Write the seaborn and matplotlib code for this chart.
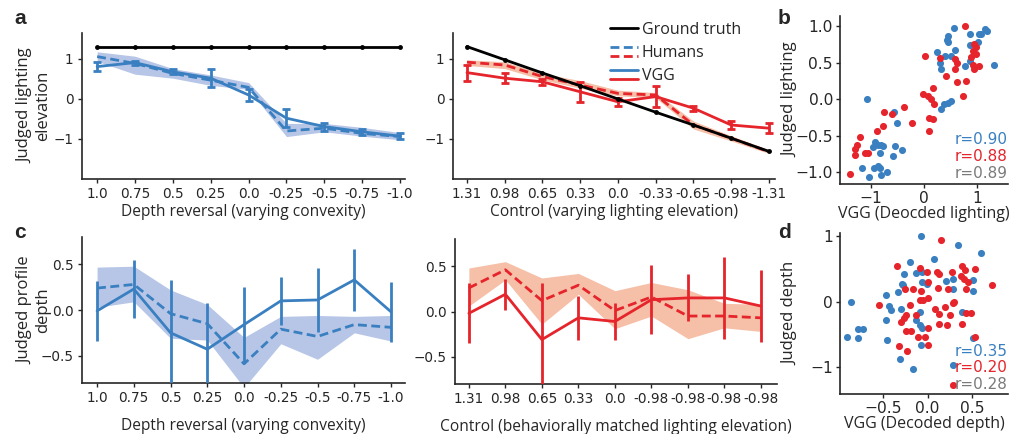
import numpy as np
import pandas as pd
import matplotlib
matplotlib.use("Agg")
import matplotlib.pyplot as plt
import seaborn as sns
from matplotlib.lines import Line2D
from matplotlib.legend_handler import HandlerBase

# ---------------- data ----------------
depth_labels = ["1.0", "0.75", "0.5", "0.25", "0.0", "-0.25", "-0.5", "-0.75", "-1.0"]
ctrl_labels = ["1.31", "0.98", "0.65", "0.33", "0.0", "-0.33", "-0.65", "-0.98", "-1.31"]
matched_labels = ["1.31", "0.98", "0.65", "0.33", "0.0", "-0.98", "-0.98", "-0.98", "-0.98"]

a_depth_truth = [1.31, 1.31, 1.31, 1.31, 1.31, 1.31, 1.31, 1.31, 1.31]
a_depth_human = [1.06, 0.89, 0.64, 0.47, 0.29, -0.80, -0.73, -0.86, -0.94]
a_depth_human_lo = [0.94, 0.62, 0.52, 0.34, 0.24, -0.94, -0.82, -0.93, -1.02]
a_depth_human_hi = [1.18, 1.07, 0.76, 0.60, 0.41, -0.61, -0.61, -0.71, -0.84]
a_depth_vgg = [0.81, 0.91, 0.68, 0.52, 0.10, -0.48, -0.69, -0.82, -0.93]
a_depth_vgg_err = [0.12, 0.05, 0.06, 0.22, 0.15, 0.22, 0.10, 0.07, 0.07]

a_ctrl_truth = [1.31, 0.98, 0.65, 0.33, 0.0, -0.33, -0.65, -0.98, -1.31]
a_ctrl_human = [0.92, 0.85, 0.56, 0.35, 0.14, 0.10, -0.65, -0.98, -1.32]
a_ctrl_human_lo = [0.84, 0.76, 0.48, 0.27, 0.08, 0.03, -0.75, -1.05, -1.36]
a_ctrl_human_hi = [0.98, 0.93, 0.64, 0.46, 0.22, 0.16, -0.55, -0.92, -1.27]
a_ctrl_vgg = [0.66, 0.52, 0.43, 0.18, -0.07, 0.06, -0.23, -0.65, -0.73]
a_ctrl_vgg_err = [0.20, 0.12, 0.08, 0.25, 0.10, 0.27, 0.06, 0.10, 0.12]

c_depth_human = [0.24, 0.28, -0.04, -0.15, -0.59, -0.21, -0.29, -0.16, -0.19]
c_depth_human_lo = [0.03, 0.09, -0.31, -0.33, -0.85, -0.37, -0.54, -0.25, -0.34]
c_depth_human_hi = [0.47, 0.48, 0.22, 0.06, -0.30, -0.07, -0.06, -0.07, -0.06]
c_depth_vgg = [-0.01, 0.23, -0.25, -0.43, -0.16, 0.10, 0.11, 0.33, -0.02]
c_depth_vgg_err = [0.33, 0.32, 0.58, 0.51, 0.41, 0.26, 0.35, 0.34, 0.33]

c_match_human = [0.26, 0.46, 0.12, 0.29, 0.01, 0.16, -0.05, -0.05, -0.07]
c_match_human_lo = [0.06, 0.35, -0.14, 0.19, -0.19, -0.05, -0.30, -0.18, -0.22]
c_match_human_hi = [0.48, 0.55, 0.37, 0.42, 0.23, 0.32, 0.24, 0.09, 0.08]
c_match_vgg = [-0.02, 0.19, -0.31, -0.07, -0.11, 0.13, 0.15, 0.15, 0.06]
c_match_vgg_err = [0.33, 0.17, 0.62, 0.24, 0.20, 0.38, 0.26, 0.45, 0.40]

b_blue_x = [0.56, 0.45, 0.43, 0.46, 0.87, 1.03, 1.08, 1.15, 1.18, 0.86, 1.01, 0.58, 0.25, 0.40,
            0.51, 0.31, 0.32, 0.77, 0.86, 1.31, -1.08, 0.32, 0.37, 0.45, 0.51, -0.56, -0.50,
            -0.92, -0.87, -0.81, -0.78, -0.95, -0.55, -0.42, -0.82, -0.59, -1.16, -0.94, -0.87,
            -0.82, -0.70, -0.81, -1.03]
b_blue_y = [0.97, 0.87, 0.81, 0.78, 0.89, 0.89, 0.89, 0.96, 0.94, 0.74, 0.78, 0.67, 0.65, 0.59,
            0.59, 0.49, 0.42, 0.46, 0.53, 0.47, 0.00, -0.14, -0.07, -0.05, -0.03, -0.17, -0.32,
            -0.59, -0.62, -0.62, -0.64, -0.65, -0.64, -0.70, -0.73, -0.78, -0.94, -0.94, -0.91,
            -0.94, -0.99, -1.03, -1.06]
b_red_x = [0.77, 0.01, 0.31, 0.58, 0.62, 0.42, 0.62, 0.79, 0.94, 0.97, 0.92, 0.97, 0.89, 0.92,
           0.94, 1.03, 0.58, 0.16, -0.01, 0.08, 0.14, 0.19, 0.10, 0.16, 0.10, 0.73, -0.38,
           -0.76, -0.61, -0.23, -0.78, -0.89, -1.20, -1.26, -1.30, -1.30, -1.11, -1.05, -1.39]
b_red_y = [1.00, 0.59, 0.56, 0.55, 0.50, 0.32, 0.24, 0.25, 0.75, 0.71, 0.66, 0.62, 0.58, 0.47,
           0.41, 0.46, 0.41, 0.15, 0.07, 0.05, 0.00, -0.07, -0.25, -0.27, -0.44, 0.05, -0.11,
           -0.17, -0.20, -0.33, -0.37, -0.44, -0.52, -0.62, -0.68, -0.76, -0.73, -0.74, -1.02]

d_blue_x = [-0.07, 0.34, 0.60, 0.07, -0.20, -0.26, -0.13, -0.06, -0.29, -0.27, -0.33, -0.46,
            -0.06, -0.01, 0.21, 0.28, 0.28, 0.51, 0.51, -0.86, -0.43, -0.41, -0.30, -0.46, -0.09,
            -0.13, -0.09, -0.06, 0.39, -0.78, -0.72, -0.90, -0.78, -0.45, -0.07, -0.31, -0.16,
            0.28, 0.51]
d_blue_y = [1.00, 0.87, 0.75, 0.66, 0.61, 0.43, 0.44, 0.46, 0.27, 0.25, 0.15, 0.10, 0.30, 0.27,
            0.31, 0.35, 0.19, 0.33, 0.17, 0.00, -0.06, -0.13, -0.11, -0.28, -0.15, -0.28, -0.36,
            -0.40, -0.16, -0.41, -0.41, -0.54, -0.56, -0.59, -0.66, -0.87, -1.03, -0.97, -0.55]
d_red_x = [0.15, -0.34, -0.09, -0.01, 0.10, 0.13, 0.27, 0.38, 0.42, 0.53, 0.37, 0.41, 0.45,
           0.43, 0.72, -0.25, -0.16, -0.07, 0.01, 0.12, 0.23, -0.09, -0.05, 0.00, -0.20, -0.54,
           0.08, 0.20, 0.28, 0.30, 0.43, 0.49, 0.13, 0.25, -0.24, -0.26, -0.13, -0.30, 0.13,
           0.22, 0.38, -0.24, -0.18, 0.01, -0.11, -0.03, 0.00, -0.32, -0.23, 0.28, 0.53]
d_red_y = [0.94, 0.54, 0.51, 0.46, 0.46, 0.43, 0.46, 0.55, 0.48, 0.50, 0.40, 0.34, 0.30, 0.20,
           0.25, 0.19, 0.20, 0.16, 0.30, 0.21, 0.20, 0.02, 0.02, 0.05, -0.05, -0.05, -0.11,
           -0.08, -0.02, 0.00, -0.17, -0.17, -0.18, -0.20, -0.21, -0.25, -0.21, -0.31, -0.34,
           -0.36, -0.34, -0.44, -0.45, -0.40, -0.54, -0.54, -0.66, -0.68, -0.76, -1.27, -0.54]

r_b = ["r=0.90", "r=0.88", "r=0.89"]
r_d = ["r=0.35", "r=0.20", "r=0.28"]

# ---------------- style ----------------
BLUE = "#3a80c1"
RED = "#e5242b"
BAND_BLUE = "#b7c6e7"
BAND_RED = "#f6bfa8"
GRAY = "#7a7a7a"

sns.set_theme(style="ticks")
plt.rcParams["font.family"] = ["DejaVu Sans"]
plt.rcParams["axes.linewidth"] = 1.2
LABFONT = ["Open Sans", "DejaVu Sans"]

fig = plt.figure(figsize=(10.11, 4.34), dpi=100)
W, H = 1011, 434


def add_ax(x0, y0, x1, y1):
    return fig.add_axes([x0 / W, 1 - y1 / H, (x1 - x0) / W, (y1 - y0) / H])


ax_a1 = add_ax(82, 33, 405, 179)
ax_a2 = add_ax(453, 33, 775, 179)
ax_b = add_ax(840, 16, 1008, 184)
ax_c1 = add_ax(82, 237, 405, 383)
ax_c2 = add_ax(455, 239, 777, 384)
ax_d = add_ax(840, 233, 1008, 394)

pos = np.arange(9)
DASH = (0, (3.2, 1.6))


def line_panel(ax, human, lo, hi, vgg, err, col, band, capsize, truth=None):
    ax.fill_between(pos, lo, hi, color=band, lw=0, zorder=1)
    df = pd.DataFrame({"x": pos, "human": human, "vgg": vgg})
    sns.lineplot(data=df, x="x", y="human", ax=ax, color=col, lw=2, linestyle=DASH, zorder=3)
    sns.lineplot(data=df, x="x", y="vgg", ax=ax, color=col, lw=2, zorder=4)
    ax.errorbar(pos, vgg, yerr=err, fmt="none", ecolor=col, elinewidth=2,
                capsize=capsize, capthick=2, zorder=4)
    if truth is not None:
        sns.lineplot(x=pos, y=truth, ax=ax, color="black", lw=2, marker="o",
                     markersize=3.5, markeredgewidth=0, zorder=5)


line_panel(ax_a1, a_depth_human, a_depth_human_lo, a_depth_human_hi, a_depth_vgg,
           a_depth_vgg_err, BLUE, BAND_BLUE, 3, a_depth_truth)
line_panel(ax_a2, a_ctrl_human, a_ctrl_human_lo, a_ctrl_human_hi, a_ctrl_vgg,
           a_ctrl_vgg_err, RED, BAND_RED, 3, a_ctrl_truth)
line_panel(ax_c1, c_depth_human, c_depth_human_lo, c_depth_human_hi, c_depth_vgg,
           c_depth_vgg_err, BLUE, BAND_BLUE, 0)
line_panel(ax_c2, c_match_human, c_match_human_lo, c_match_human_hi, c_match_vgg,
           c_match_vgg_err, RED, BAND_RED, 0)

for ax, labels, xl in [(ax_a1, depth_labels, (-0.4, 8.13)), (ax_a2, ctrl_labels, (-0.37, 8.16)),
                       (ax_c1, depth_labels, (-0.41, 8.38)), (ax_c2, matched_labels, (-0.38, 8.44))]:
    ax.set_xticks(pos)
    ax.set_xticklabels(labels)
    ax.set_xlim(*xl)
    ax.tick_params(labelsize=9.8, length=3, width=1, pad=3)
    sns.despine(ax=ax)
    ax.set_ylabel("")

for ax in (ax_a1, ax_a2):
    ax.set_ylim(-2.0, 1.65)
    ax.set_yticks([-1, 0, 1])
    ax.set_yticklabels(["\u22121", "0", "1"])
for ax in (ax_c1, ax_c2):
    ax.set_ylim(-0.8, 0.8)
    ax.set_yticks([-0.5, 0, 0.5])
    ax.set_yticklabels(["\u22120.5", "0.0", "0.5"])

XFS = 11.2
ax_a1.set_xlabel("Depth reversal (varying convexity)", family=LABFONT, fontsize=XFS, labelpad=2)
ax_a2.set_xlabel("Control (varying lighting elevation)", family=LABFONT, fontsize=XFS, labelpad=2)
ax_c1.set_xlabel("Depth reversal (varying convexity)", family=LABFONT, fontsize=XFS, labelpad=9)
ax_c2.set_xlabel("Control (behaviorally matched lighting elevation)", family=LABFONT,
                 fontsize=XFS, labelpad=9)

# two-line y labels drawn line by line (centred columns like the reference)
for ax, lines in [(ax_a1, ["Judged lighting", "elevation"]),
                  (ax_c1, ["Judged profile", "depth"])]:
    for txt, xc in zip(lines, [-0.176, -0.119]):
        ax.text(xc, 0.5, txt, transform=ax.transAxes, rotation=90, ha="center",
                va="center", family=LABFONT, fontsize=12)


# ---------------- scatters ----------------
def scatter_panel(ax, bx, by, rx, ry, rtexts):
    sns.scatterplot(x=bx, y=by, ax=ax, color=BLUE, s=26, marker="o", linewidth=0, zorder=3)
    sns.scatterplot(x=rx, y=ry, ax=ax, color=RED, s=26, marker="o", linewidth=0, zorder=3)
    for t, c, yy in zip(rtexts, [BLUE, RED, GRAY], [0.265, 0.165, 0.06]):
        ax.text(1.0, yy, t, color=c, transform=ax.transAxes, ha="right", va="center",
                fontsize=11)
    ax.tick_params(labelsize=11.2, length=3, width=1, pad=2)
    sns.despine(ax=ax)


scatter_panel(ax_b, b_blue_x, b_blue_y, b_red_x, b_red_y, r_b)
ax_b.set_xlim(-1.58, 1.58)
ax_b.set_ylim(-1.16, 1.14)
ax_b.set_xticks([-1, 0, 1])
ax_b.set_xticklabels(["\u22121", "0", "1"])
ax_b.set_yticks([-1, -0.5, 0, 0.5, 1])
ax_b.set_yticklabels(["\u22121.0", "\u22120.5", "0.0", "0.5", "1.0"])
ax_b.set_xlabel("VGG (Deocded lighting)", family=LABFONT, fontsize=11.5, labelpad=0)
ax_b.set_ylabel("Judged lighting", family=LABFONT, fontsize=12)
ax_b.yaxis.set_label_coords(-0.245, 0.5)

scatter_panel(ax_d, d_blue_x, d_blue_y, d_red_x, d_red_y, r_d)
ax_d.set_xlim(-0.98, 0.9)
ax_d.set_ylim(-1.41, 1.05)
ax_d.set_xticks([-0.5, 0, 0.5])
ax_d.set_xticklabels(["\u22120.5", "0.0", "0.5"])
ax_d.set_yticks([-1, 0, 1])
ax_d.set_yticklabels(["\u22121", "0", "1"])
ax_d.set_xlabel("VGG (Decoded depth)", family=LABFONT, fontsize=11.5, labelpad=0)
ax_d.set_ylabel("Judged depth", family=LABFONT, fontsize=12)
ax_d.yaxis.set_label_coords(-0.245, 0.5)


# ---------------- legend ----------------
class Stacked(HandlerBase):
    def __init__(self, colors, ls):
        super().__init__()
        self.colors = colors
        self.ls = ls

    def create_artists(self, legend, orig_handle, xdescent, ydescent, width, height,
                       fontsize, trans):
        arts = []
        ys = [height * 0.5 + 3.2, height * 0.5 - 3.2] if len(self.colors) == 2 else [height * 0.5]
        for c, y in zip(self.colors, ys):
            ln = Line2D([-xdescent, width - xdescent], [y - ydescent, y - ydescent],
                        color=c, ls=self.ls, lw=2, transform=trans)
            arts.append(ln)
        return arts


h_gt, h_hu, h_vg = object(), object(), object()
leg = fig.legend([h_gt, h_hu, h_vg], ["Ground truth", "Humans", "VGG"],
                 handler_map={h_gt: Stacked(["black"], "-"),
                              h_hu: Stacked([BLUE, RED], (0, (3.2, 1.6))),
                              h_vg: Stacked([BLUE, RED], "-")},
                 loc="upper left", bbox_to_anchor=(610 / W, 1 - 22 / H), frameon=False,
                 borderpad=0, borderaxespad=0, handlelength=1.75, handletextpad=0.25,
                 labelspacing=0.45, prop={"family": LABFONT, "size": 11.5})

# ---------------- panel letters ----------------
for t, x, y in [("a", 14, 18), ("b", 778, 18), ("c", 14, 232), ("d", 778, 232)]:
    fig.text(x / W, 1 - y / H, t, fontsize=15, fontweight="bold",
             family=["Liberation Sans", "DejaVu Sans"], va="center", ha="left")

fig.savefig("out.png", dpi=100)
